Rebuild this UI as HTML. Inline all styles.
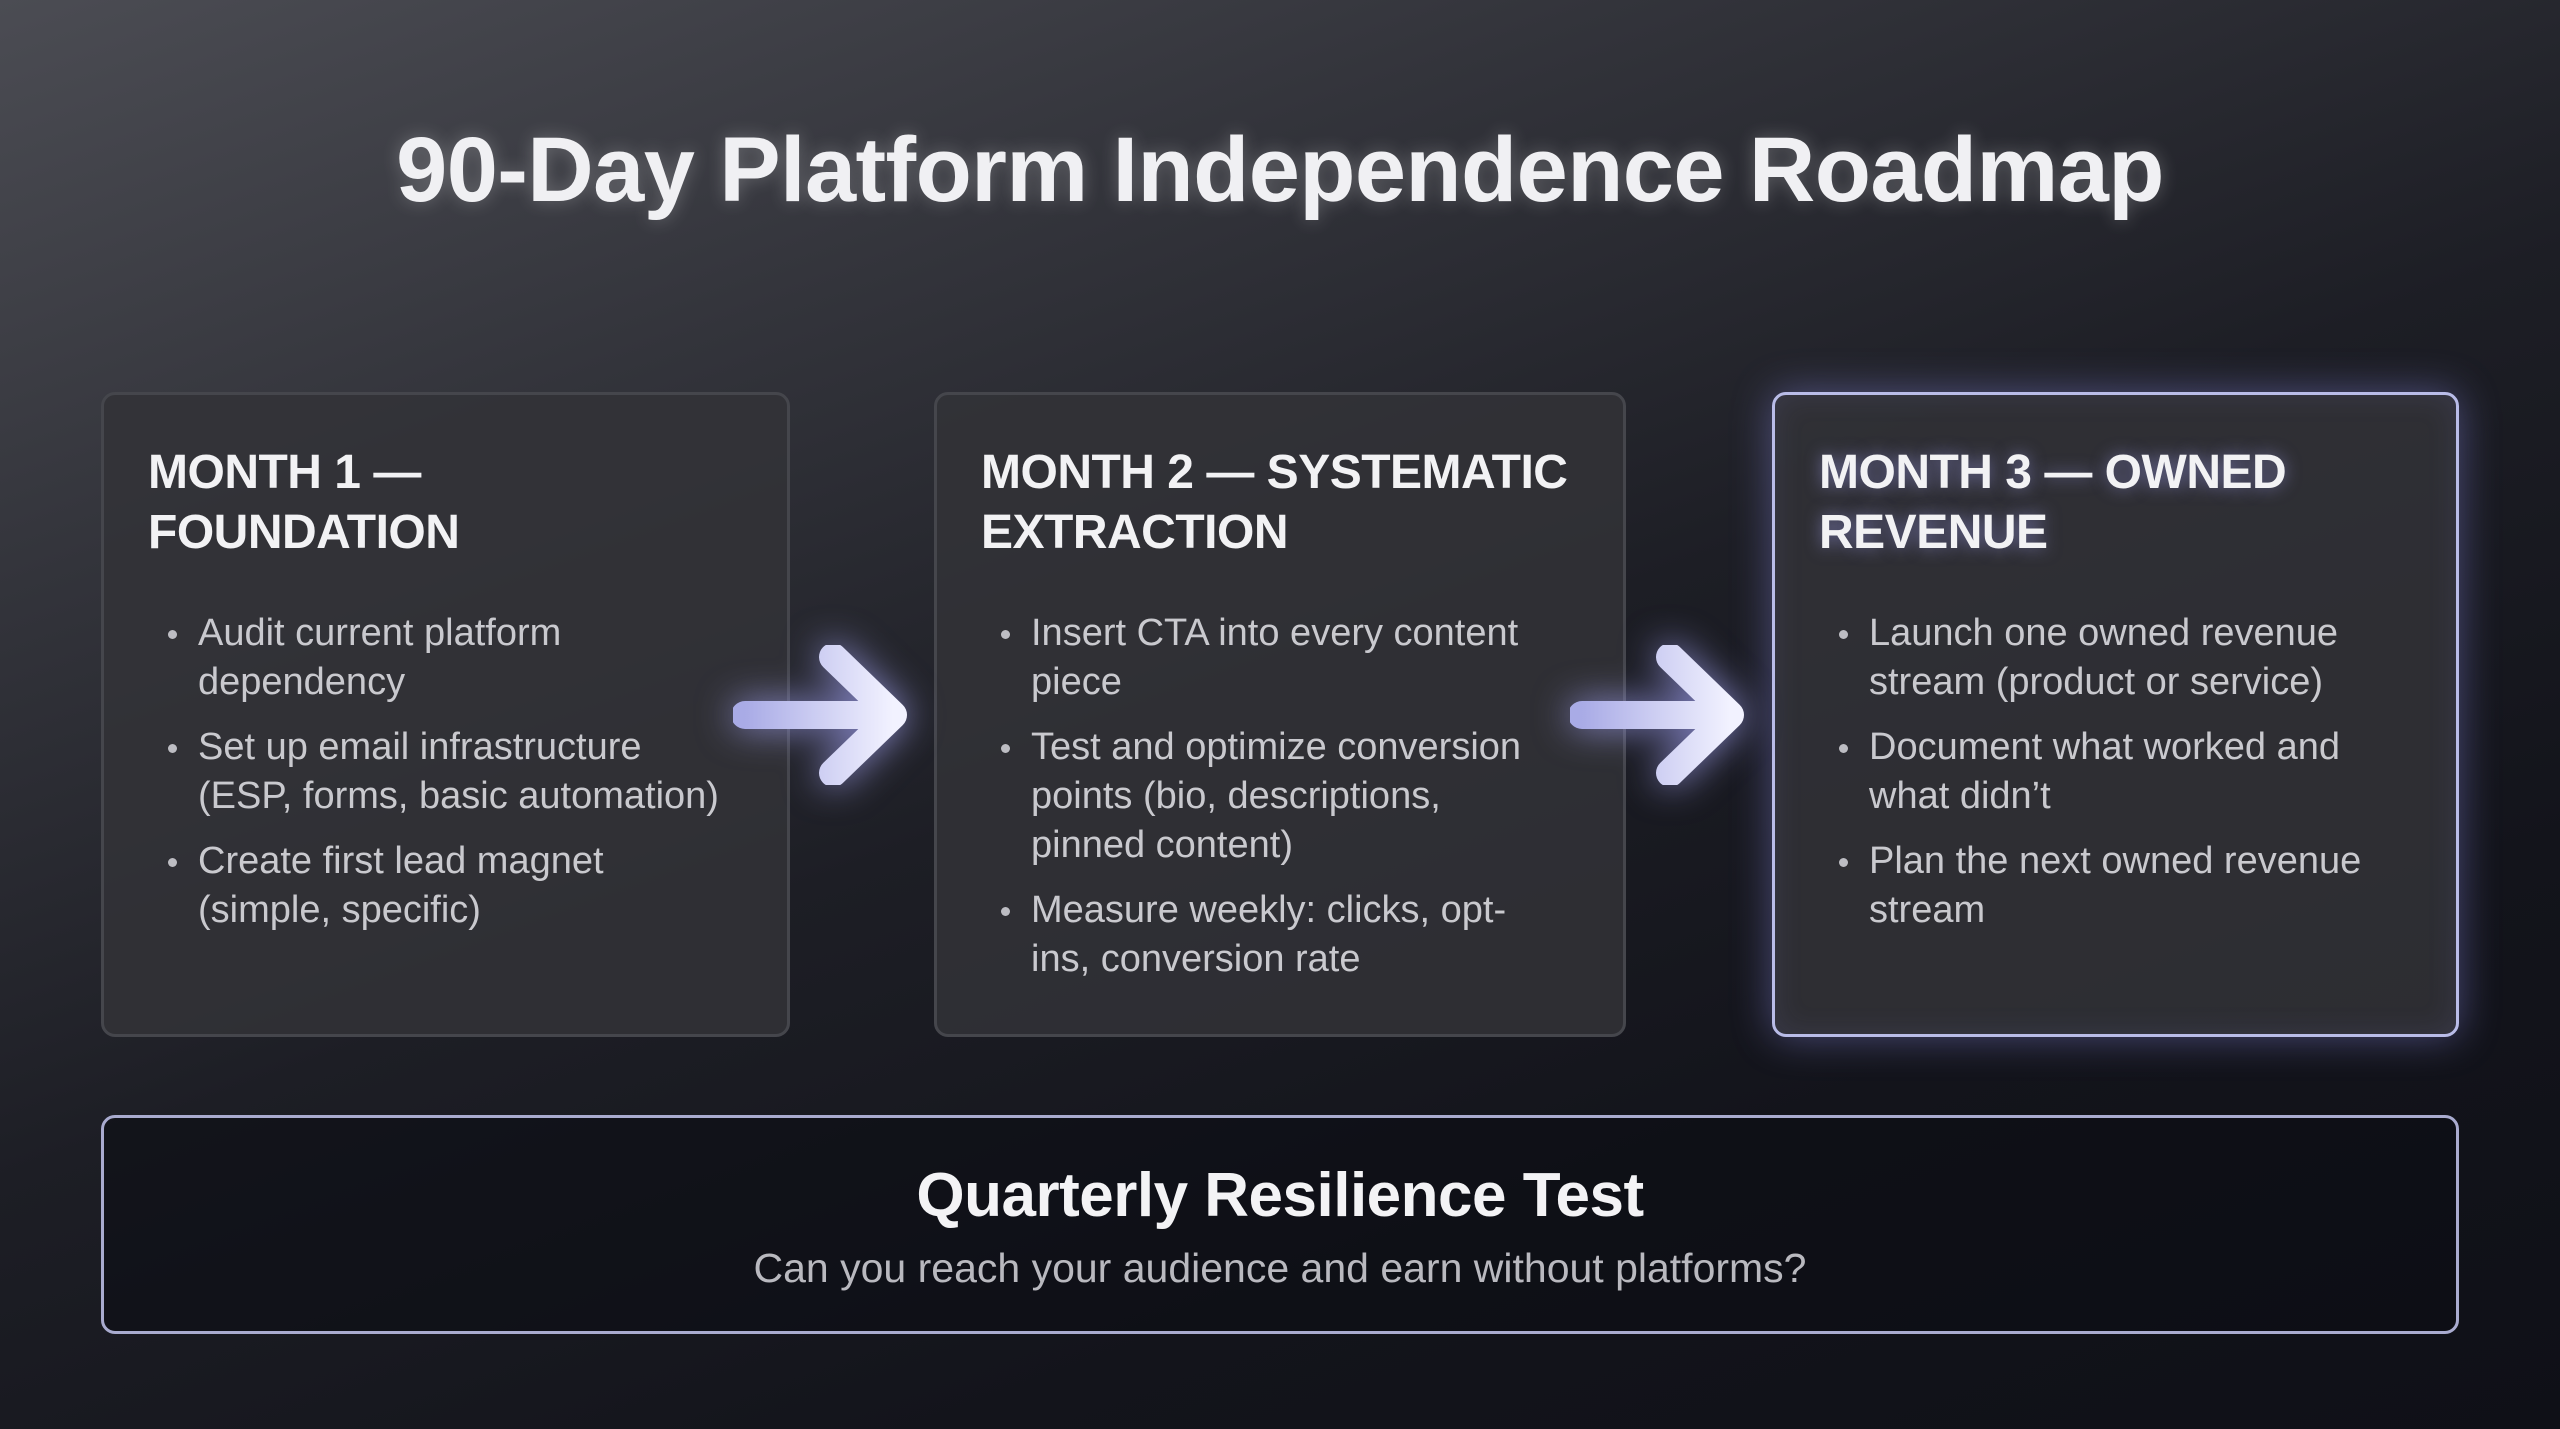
<!DOCTYPE html>
<html><head><meta charset="utf-8"><style>
*{margin:0;padding:0;box-sizing:border-box}
body{width:2560px;height:1429px;overflow:hidden;font-family:"Liberation Sans",sans-serif;
background:linear-gradient(160deg,#4b4c53 0%,#33343b 25%,#1d1e25 50%,#13141b 75%,#0f1017 100%);position:relative;color:#fff}
.title{position:absolute;top:118px;left:0;width:2560px;text-align:center;font-size:92px;font-weight:bold;color:#f0f0f3;letter-spacing:-.6px;text-shadow:0 0 18px rgba(255,255,255,.25)}
.box{position:absolute;top:392px;height:645px;border-radius:14px;background:rgba(50,50,55,.85);border:3px solid #45464c;padding:48px 0 0 44px}
.box h2{font-size:48px;line-height:60px;font-weight:bold;color:#f2f2f4;letter-spacing:-.5px;white-space:nowrap}
.box ul{list-style:none;margin-top:46px}
.box li{position:relative;padding-left:50px;font-size:38px;line-height:49px;color:#c9c9ce;margin-bottom:16px;white-space:nowrap}
.box li:before{content:"";position:absolute;left:20px;top:21px;width:9px;height:9px;border-radius:50%;background:#bdbdc3}
.b3{border-color:#b9bce8;box-shadow:0 0 40px rgba(140,140,230,.45),inset 0 0 30px rgba(140,140,230,.12)}
.b3 h2{text-shadow:0 0 16px rgba(170,170,255,.5)}
.arrow{position:absolute;top:645px;width:180px;height:140px;filter:drop-shadow(0 0 18px rgba(170,170,255,.7))}
.bottom{position:absolute;left:101px;top:1115px;width:2358px;height:219px;border-radius:14px;border:3px solid #a9abcf;background:rgba(12,13,20,.6);text-align:center}
.bottom h3{margin-top:42px;font-size:62px;font-weight:bold;color:#f3f3f5;letter-spacing:-.5px}
.bottom p{margin-top:14px;font-size:41px;color:#b9b9bf}
</style></head><body>
<div class="title">90-Day Platform Independence Roadmap</div>

<div class="box" style="left:101px;width:689px">
<h2>MONTH 1 —<br>FOUNDATION</h2>
<ul><li>Audit current platform<br>dependency</li><li>Set up email infrastructure<br>(ESP, forms, basic automation)</li><li>Create first lead magnet<br>(simple, specific)</li></ul></div>

<div class="box" style="left:934px;width:692px">
<h2>MONTH 2 — SYSTEMATIC<br>EXTRACTION</h2>
<ul><li>Insert CTA into every content<br>piece</li><li>Test and optimize conversion<br>points (bio, descriptions,<br>pinned content)</li><li>Measure weekly: clicks, opt-<br>ins, conversion rate</li></ul></div>

<div class="box b3" style="left:1772px;width:687px">
<h2>MONTH 3 — OWNED<br>REVENUE</h2>
<ul><li>Launch one owned revenue<br>stream (product or service)</li><li>Document what worked and<br>what didn’t</li><li>Plan the next owned revenue<br>stream</li></ul></div>

<svg class="arrow" style="left:733px" viewBox="0 0 180 140"><defs><linearGradient id="g" x1="0" x2="1"><stop offset="0" stop-color="#a9abe6"/><stop offset="1" stop-color="#f2f2ff"/></linearGradient></defs>
<path d="M12 70 H160 M100 12 L160 70 L100 128" fill="none" stroke="url(#g)" stroke-width="28" stroke-linecap="round" stroke-linejoin="round"/></svg>
<svg class="arrow" style="left:1570px" viewBox="0 0 180 140"><path d="M12 70 H160 M100 12 L160 70 L100 128" fill="none" stroke="url(#g)" stroke-width="28" stroke-linecap="round" stroke-linejoin="round"/></svg>

<div class="bottom"><h3>Quarterly Resilience Test</h3><p>Can you reach your audience and earn without platforms?</p></div>
</body></html>
